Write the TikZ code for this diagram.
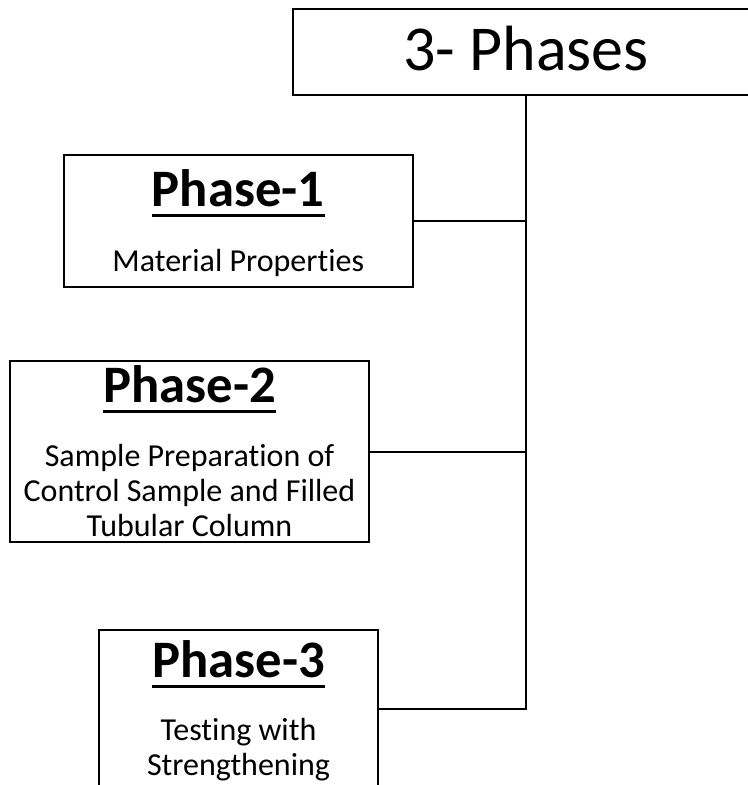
\documentclass[tikz,border=0pt]{standalone}
\usepackage{fontspec}
\setmainfont{Carlito}[Ligatures=NoCommon]
\usetikzlibrary{positioning}

\newcommand{\phaseul}[1]{\setbox0\hbox{#1}\rlap{\rule[-7.6pt]{\wd0}{2.2pt}}\box0}

\begin{document}
\begin{tikzpicture}[
    x=0.75pt, y=-0.75pt,
    phase/.style={draw,line width=1.5pt,rectangle,inner sep=0pt,outer sep=0pt},
    headtext/.style={font={\fontsize{48}{56}\selectfont},anchor=base,inner sep=0pt},
    titletext/.style={font={\fontsize{39.5}{47}\selectfont\bfseries},anchor=base,inner sep=0pt},
    bodytext/.style={font={\fontsize{24}{26.25}\selectfont},align=center,anchor=base,inner sep=0pt},
    branch/.style={line width=1.5pt},
]
    \useasboundingbox (0,0) rectangle (748,785);
    \clip (0,0) rectangle (748,785);

    % Boxes
    \node[phase, minimum width=349.5pt, minimum height=64.5pt] (top) at (526,52) {};
    \node[phase, minimum width=262pt, minimum height=99.4pt] (p1) at (238.25,221) {};
    \node[phase, minimum width=269.25pt, minimum height=135.75pt] (p2) at (189.5,451.5) {};
    \node[phase, minimum width=209.25pt, minimum height=118.5pt] (p3) at (238.5,709) {};

    % Texts (multi-line texts sit on their last baseline)
    \node[headtext] (toptext) at (526,70) {3- Phases};
    \node[titletext] (p1title) at (238.25,206.5) {\phaseul{Phase-1}};
    \node[bodytext] (p1body) at (238.25,271.5) {Material Properties};
    \node[titletext] (p2title) at (189.5,402.5) {\phaseul{Phase-2}};
    \node[bodytext] (p2body) at (189.5,536.5) {Sample Preparation of\\Control Sample and Filled\\Tubular Column};
    \node[titletext] (p3title) at (238.5,677.5) {\phaseul{Phase-3}};
    \node[bodytext] (p3body) at (238.5,775) {Testing with\\Strengthening};

    % Links
    \draw[branch] (top.south) |- (p3.east);
    \draw[branch] (p1.east) -- (p1.east -| top.south);
    \draw[branch] (p2.east) -- (p2.east -| top.south);

\end{tikzpicture}
\end{document}
